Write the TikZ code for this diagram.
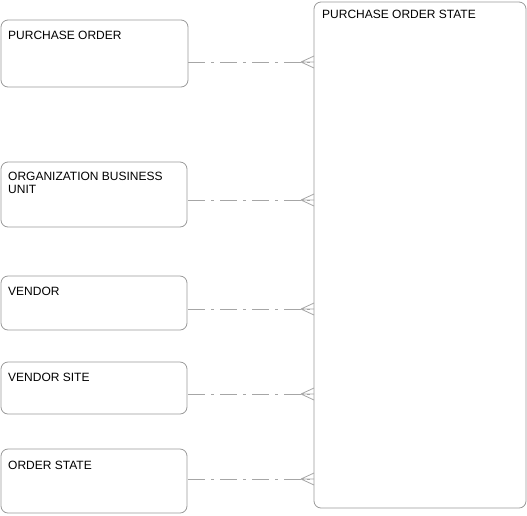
\documentclass[tikz,border=0pt]{standalone}
\usepackage{fontspec}
\setmainfont{Liberation Sans}
\begin{document}
\begin{tikzpicture}[x=1pt,y=-1pt,
  entity/.style={draw=black!40,line width=0.8pt,rounded corners=7pt},
  lbl/.style={anchor=base west,inner sep=0pt,font=\fontsize{12}{13.5}\selectfont,align=left},
  rel/.style={draw=black!35,line width=0.8pt,dash pattern=on 17pt off 6pt on 3pt off 6pt},
  crow/.style={draw=black!35,line width=0.8pt}]
\useasboundingbox (0,0) rectangle (527,515);
\draw[entity] (1,20) rectangle (188,87);
\draw[entity] (1,162) rectangle (187,227);
\draw[entity] (1,276) rectangle (187,330);
\draw[entity] (1,362) rectangle (187,414);
\draw[entity] (1,449) rectangle (187,513);
\draw[entity] (314,2) rectangle (526,508);
\node[lbl] (t1) at (8,39) {PURCHASE ORDER};
\node[lbl] (t2) at (8,193.5) {ORGANIZATION BUSINESS\\UNIT};
\node[lbl] (t3) at (8,295) {VENDOR};
\node[lbl] (t4) at (8,381) {VENDOR SITE};
\node[lbl] (t5) at (8,469) {ORDER STATE};
\node[lbl] (t6) at (322,18) {PURCHASE ORDER STATE};
\foreach \y in {62,200,309,394,479}{
  \coordinate (a\y) at (188,\y);
  \coordinate (b\y) at (314,\y);
  \coordinate (c\y) at (301,\y);
  \draw[rel] (a\y) -- (b\y);
  \draw[crow] (c\y) -- (314,\y-6) (c\y) -- (314,\y+6) (c\y) -- (b\y);
}
\end{tikzpicture}
\end{document}
